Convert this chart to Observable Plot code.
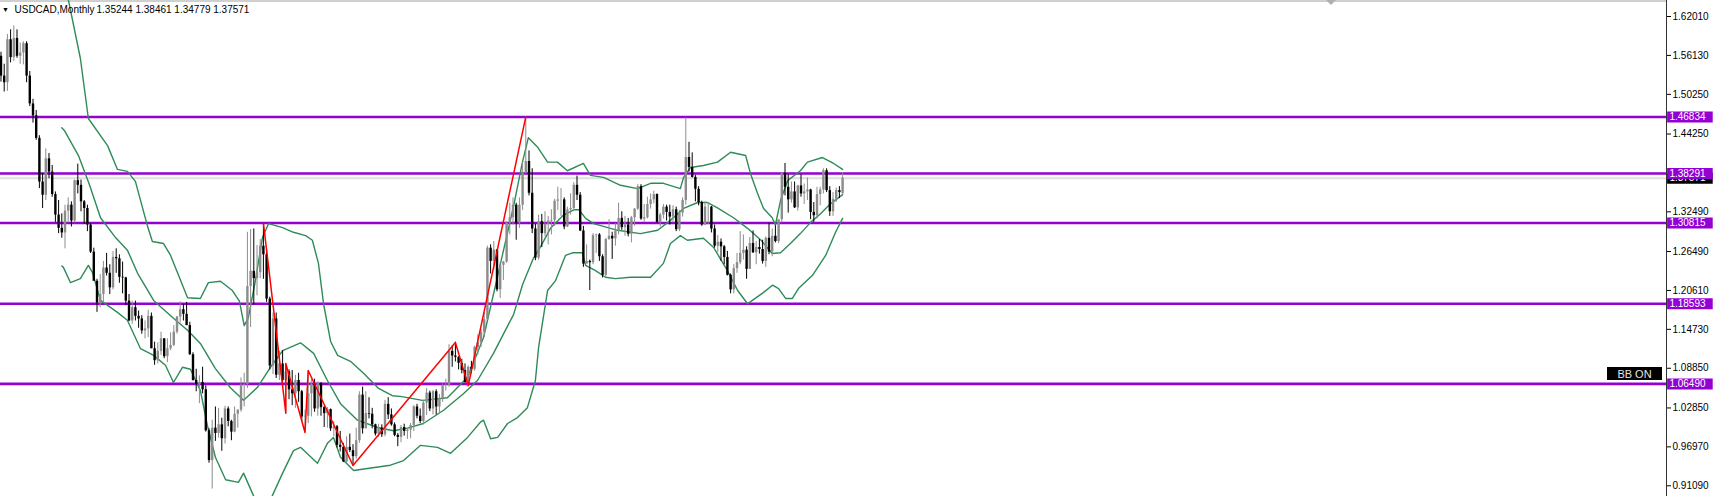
<!DOCTYPE html>
<html><head><meta charset="utf-8">
<script src="https://cdn.jsdelivr.net/npm/d3@7"></script>
<script src="https://cdn.jsdelivr.net/npm/@observablehq/plot@0.6"></script>
<style>
html,body{margin:0;padding:0;background:#fff;}
#chart svg{display:block;overflow:visible;}
</style></head><body><div id="chart"></div>
<script>
// ---------- data ----------
const symbolName = "USDCAD,Monthly";
const lastQuote = ["1.35244", "1.38461", "1.34779", "1.37571"];
const lastClose = 1.37571;
const badgeText = "BB ON";

// monthly candles, May 2002 (index 0) ... Apr 2024 (index 263)
const open = [
1.560,1.530,1.520,1.585,1.558,1.587,1.560,1.565,
1.579,1.530,1.488,1.470,1.436,1.370,1.350,1.405,1.385,1.351,1.320,1.300,
1.293,1.326,1.335,1.311,1.372,1.365,1.340,1.330,1.305,1.264,1.220,1.187,
1.200,1.240,1.232,1.210,1.256,1.254,1.226,1.225,1.190,1.160,1.180,1.167,
1.163,1.145,1.148,1.167,1.118,1.100,1.114,1.133,1.106,1.118,1.123,1.143,
1.166,1.177,1.170,1.153,1.109,1.070,1.064,1.067,1.056,0.994,0.949,0.998,
0.990,1.003,0.982,1.027,1.008,0.992,1.019,1.025,1.063,1.064,1.212,1.235,
1.224,1.233,1.273,1.260,1.193,1.092,1.163,1.078,1.095,1.070,1.083,1.056,
1.050,1.070,1.053,1.015,1.016,1.050,1.064,1.027,1.066,1.029,1.020,1.026,
0.997,1.000,0.972,0.969,0.947,0.969,0.964,0.955,0.979,1.048,0.997,1.020,
1.019,1.003,0.989,0.998,0.988,1.034,1.018,1.003,0.987,0.984,0.999,0.993,
0.995,1.002,1.030,1.016,1.008,1.036,1.051,1.027,1.053,1.030,1.043,1.062,
1.063,1.114,1.107,1.105,1.096,1.085,1.067,1.090,1.087,1.120,1.127,1.143,
1.162,1.270,1.250,1.267,1.207,1.244,1.249,1.308,1.316,1.335,1.308,1.335,
1.384,1.401,1.353,1.299,1.255,1.310,1.292,1.306,1.311,1.312,1.341,1.343,
1.343,1.302,1.328,1.330,1.365,1.350,1.296,1.246,1.250,1.248,1.289,1.290,
1.257,1.229,1.283,1.288,1.284,1.296,1.315,1.301,1.305,1.291,1.316,1.329,
1.363,1.314,1.316,1.336,1.343,1.351,1.309,1.320,1.332,1.324,1.317,1.328,
1.298,1.323,1.342,1.407,1.392,1.377,1.359,1.339,1.305,1.332,1.332,1.299,
1.273,1.279,1.272,1.256,1.229,1.207,1.239,1.248,1.262,1.267,1.238,1.277,
1.263,1.271,1.268,1.250,1.285,1.264,1.288,1.280,1.313,1.383,1.362,1.343,
1.355,1.331,1.364,1.352,1.355,1.358,1.324,1.319,1.351,1.358,1.387,1.357,
1.325,1.344,1.357,1.35244];
const high = [
1.566,1.548,1.593,1.600,1.606,1.600,1.580,1.582,
1.582,1.537,1.495,1.478,1.440,1.383,1.420,1.413,1.395,1.355,1.342,1.322,
1.335,1.346,1.340,1.373,1.397,1.373,1.342,1.335,1.307,1.270,1.223,1.230,
1.250,1.262,1.245,1.265,1.269,1.260,1.249,1.226,1.200,1.190,1.190,1.175,
1.168,1.160,1.176,1.172,1.128,1.127,1.143,1.133,1.133,1.142,1.153,1.167,
1.189,1.185,1.188,1.158,1.112,1.087,1.077,1.090,1.062,0.997,1.010,1.030,
1.028,1.013,1.031,1.030,1.010,1.030,1.026,1.074,1.081,1.294,1.298,1.299,
1.274,1.283,1.308,1.266,1.196,1.172,1.172,1.114,1.115,1.095,1.086,1.085,
1.078,1.081,1.055,1.025,1.085,1.072,1.072,1.068,1.066,1.031,1.029,1.027,
1.008,1.002,0.993,0.975,0.985,0.989,0.973,0.998,1.053,1.060,1.053,1.044,
1.028,1.004,1.004,1.003,1.040,1.044,1.027,1.006,0.990,1.002,1.004,0.997,
1.005,1.032,1.034,1.027,1.040,1.058,1.054,1.055,1.056,1.049,1.065,1.072,
1.124,1.122,1.128,1.106,1.102,1.095,1.092,1.099,1.122,1.139,1.147,1.173,
1.273,1.275,1.280,1.268,1.249,1.250,1.310,1.338,1.346,1.338,1.346,1.400,
1.468,1.417,1.390,1.306,1.320,1.321,1.325,1.318,1.328,1.344,1.362,1.360,
1.346,1.332,1.352,1.369,1.379,1.354,1.303,1.275,1.252,1.292,1.291,1.292,
1.260,1.285,1.313,1.294,1.307,1.338,1.325,1.318,1.315,1.318,1.330,1.366,
1.366,1.336,1.347,1.352,1.356,1.352,1.323,1.336,1.335,1.335,1.334,1.332,
1.327,1.346,1.467,1.430,1.414,1.380,1.363,1.341,1.340,1.339,1.333,1.305,
1.289,1.284,1.274,1.265,1.231,1.245,1.262,1.295,1.290,1.272,1.286,1.296,
1.280,1.283,1.282,1.287,1.308,1.299,1.304,1.312,1.384,1.398,1.381,1.370,
1.370,1.365,1.381,1.367,1.376,1.359,1.339,1.362,1.362,1.390,1.390,1.363,
1.354,1.361,1.363,1.38461];
const low = [
1.521,1.506,1.507,1.550,1.552,1.557,1.548,1.547,
1.520,1.484,1.459,1.433,1.360,1.330,1.342,1.375,1.347,1.309,1.292,1.285,
1.269,1.308,1.302,1.308,1.352,1.325,1.306,1.295,1.262,1.220,1.173,1.180,
1.187,1.228,1.200,1.207,1.232,1.217,1.201,1.183,1.159,1.155,1.160,1.149,
1.140,1.133,1.135,1.118,1.093,1.095,1.108,1.103,1.097,1.115,1.121,1.140,
1.157,1.160,1.153,1.108,1.069,1.053,1.035,1.050,0.992,0.945,0.906,0.978,
0.983,0.963,0.974,1.000,0.979,0.991,0.998,1.022,1.030,1.058,1.150,1.184,
1.198,1.224,1.223,1.188,1.086,1.079,1.073,1.070,1.059,1.021,1.041,1.032,
1.028,1.037,1.008,0.992,1.005,1.015,1.022,1.016,1.016,0.999,0.998,0.993,
0.985,0.968,0.962,0.946,0.945,0.961,0.941,0.951,0.975,0.989,0.997,1.012,
0.997,0.986,0.984,0.984,0.985,1.011,1.001,0.985,0.970,0.976,0.986,0.981,
0.982,0.993,1.012,1.005,1.003,1.017,1.023,1.018,1.018,1.020,1.037,1.054,
1.060,1.090,1.098,1.086,1.080,1.066,1.062,1.080,1.084,1.108,1.120,1.135,
1.161,1.231,1.236,1.204,1.194,1.221,1.247,1.290,1.305,1.282,1.300,1.327,
1.382,1.349,1.292,1.251,1.252,1.271,1.287,1.275,1.290,1.303,1.327,1.318,
1.298,1.301,1.320,1.327,1.342,1.295,1.241,1.246,1.206,1.245,1.262,1.250,
1.225,1.227,1.282,1.253,1.273,1.290,1.297,1.288,1.287,1.278,1.303,1.327,
1.312,1.309,1.314,1.329,1.337,1.308,1.302,1.314,1.311,1.305,1.308,1.295,
1.295,1.317,1.335,1.385,1.376,1.340,1.334,1.303,1.304,1.306,1.293,1.270,
1.263,1.250,1.245,1.228,1.201,1.201,1.232,1.245,1.252,1.223,1.238,1.262,
1.245,1.261,1.246,1.241,1.260,1.257,1.278,1.277,1.308,1.349,1.323,1.338,
1.330,1.326,1.347,1.336,1.342,1.313,1.309,1.314,1.334,1.352,1.354,1.318,
1.318,1.339,1.345,1.34779];
const close = [
1.530,1.520,1.585,1.558,1.587,1.560,1.565,1.579,
1.530,1.488,1.470,1.436,1.370,1.350,1.405,1.385,1.351,1.320,1.300,1.293,
1.326,1.335,1.311,1.372,1.365,1.340,1.330,1.305,1.264,1.220,1.187,1.200,
1.240,1.232,1.210,1.256,1.254,1.226,1.225,1.190,1.160,1.180,1.167,1.163,
1.145,1.148,1.167,1.118,1.100,1.114,1.133,1.106,1.118,1.123,1.143,1.166,
1.177,1.170,1.153,1.109,1.070,1.064,1.067,1.056,0.994,0.949,0.998,0.990,
1.003,0.982,1.027,1.008,0.992,1.019,1.025,1.063,1.064,1.212,1.235,1.224,
1.233,1.273,1.260,1.193,1.092,1.163,1.078,1.095,1.070,1.083,1.056,1.050,
1.070,1.053,1.015,1.016,1.050,1.064,1.027,1.066,1.029,1.020,1.026,0.997,
1.000,0.972,0.969,0.947,0.969,0.964,0.955,0.979,1.048,0.997,1.020,1.019,
1.003,0.989,0.998,0.988,1.034,1.018,1.003,0.987,0.984,0.999,0.993,0.995,
1.002,1.030,1.016,1.008,1.036,1.051,1.027,1.053,1.030,1.043,1.062,1.063,
1.114,1.107,1.105,1.096,1.085,1.067,1.090,1.087,1.120,1.127,1.143,1.162,
1.270,1.250,1.267,1.207,1.244,1.249,1.308,1.316,1.335,1.308,1.335,1.384,
1.401,1.353,1.299,1.255,1.310,1.292,1.306,1.311,1.312,1.341,1.343,1.343,
1.302,1.328,1.330,1.365,1.350,1.296,1.246,1.250,1.248,1.289,1.290,1.257,
1.229,1.283,1.288,1.284,1.296,1.315,1.301,1.305,1.291,1.316,1.329,1.363,
1.314,1.316,1.336,1.343,1.351,1.309,1.320,1.332,1.324,1.317,1.328,1.298,
1.323,1.342,1.407,1.392,1.377,1.359,1.339,1.305,1.332,1.332,1.299,1.273,
1.279,1.272,1.256,1.229,1.207,1.239,1.248,1.262,1.267,1.238,1.277,1.263,
1.271,1.268,1.250,1.285,1.264,1.288,1.280,1.313,1.383,1.362,1.343,1.355,
1.331,1.364,1.352,1.355,1.358,1.324,1.319,1.351,1.358,1.387,1.357,1.325,
1.344,1.357,1.354,1.37571];

// horizontal levels drawn on the chart
const levels = [1.46834, 1.38291, 1.30815, 1.18593, 1.06490];
// price-axis tick labels
const tickValues = [1.62010, 1.56130, 1.50250, 1.44250, 1.32490, 1.26490, 1.20610, 1.14730, 1.08850, 1.02850, 0.96970, 0.91090];

// Bollinger bands: [bar index, price]
const bbUpper = [
[19,1.700],[21.1,1.644],[24.8,1.557],[27.3,1.466],[33.3,1.425],[36.4,1.389],[39.5,1.386],[42.0,1.371],[45.8,1.303],[47.3,1.280],
[50.8,1.277],[53.0,1.259],[58.3,1.195],[62.3,1.194],[64.8,1.218],[68.6,1.220],[72.3,1.206],[74.5,1.190],[76.0,1.153],[77.3,1.165],
[79.5,1.221],[81.7,1.286],[83.6,1.307],[88.0,1.301],[91.4,1.294],[95.2,1.289],[97.3,1.282],[99.2,1.247],[100.8,1.186],[103.0,1.129],
[105.2,1.108],[109.2,1.099],[113.3,1.081],[118.0,1.058],[122.3,1.047],[124.8,1.046],[131.7,1.040],[139.5,1.044],[145.8,1.075],[150.8,1.135],
[156.1,1.247],[160.2,1.334],[162.9,1.399],[164.8,1.437],[167.8,1.422],[170.8,1.400],[173.9,1.400],[177.0,1.387],[182.0,1.398],[184.2,1.380],
[188.3,1.377],[193.6,1.365],[198.9,1.360],[203.0,1.368],[207.0,1.368],[212.3,1.360],[213.3,1.377],[215.5,1.392],[219.5,1.395],[223.9,1.400],
[228.0,1.415],[232.7,1.410],[234.2,1.383],[236.4,1.353],[238.3,1.330],[241.0,1.316],[242.0,1.305],[243.6,1.342],[245.8,1.372],[249.8,1.387],
[252.0,1.400],[256.7,1.407],[260.2,1.398],[263.0,1.389]];
const bbMiddle = [
[19,1.452],[19.8,1.448],[24.2,1.410],[27.7,1.365],[31.1,1.316],[35.8,1.286],[39.5,1.267],[42.7,1.232],[47.7,1.191],[53.9,1.164],
[58.3,1.146],[62.3,1.126],[67.0,1.088],[71.7,1.059],[75.8,1.040],[80.2,1.060],[84.2,1.090],[88.0,1.115],[93.6,1.127],[97.7,1.111],
[102.0,1.070],[106.1,1.035],[111.4,1.010],[117.7,0.999],[122.7,0.994],[127.0,0.998],[132.0,1.005],[138.3,1.025],[144.5,1.050],[148.9,1.070],
[153.9,1.111],[160.2,1.170],[163.0,1.215],[166.4,1.255],[168.6,1.272],[171.7,1.300],[175.8,1.320],[179.0,1.328],[180.6,1.328],[182.7,1.315],
[185.2,1.307],[192.7,1.297],[199.8,1.292],[205.2,1.297],[209.2,1.312],[213.3,1.330],[217.7,1.339],[220.8,1.339],[223.9,1.331],[228.9,1.316],
[233.3,1.300],[237.5,1.282],[241.0,1.262],[243.6,1.263],[246.7,1.277],[249.8,1.292],[253.0,1.309],[256.1,1.322],[259.2,1.337],[263.0,1.351]];
const bbLower = [
[19,1.243],[19.5,1.241],[21.7,1.218],[24.8,1.224],[27.3,1.244],[28.6,1.233],[31.1,1.191],[36.4,1.173],[39.5,1.161],[43.6,1.118],
[47.7,1.108],[51.4,1.093],[53.9,1.067],[56.7,1.090],[59.2,1.087],[62.3,1.055],[64.5,1.002],[67.0,0.954],[70.2,0.920],[74.2,0.916],
[75.8,0.930],[78.9,0.896],[81.5,0.860],[84.8,0.896],[88.0,0.930],[91.4,0.964],[93.6,0.969],[98.9,0.945],[102.0,0.975],[103.9,0.984],
[106.1,0.954],[110.2,0.934],[114.5,0.937],[121.7,0.942],[125.8,0.949],[131.1,0.972],[136.4,0.969],[140.5,0.960],[145.8,0.984],[149.8,1.007],
[150.8,1.010],[153.0,0.982],[155.2,0.984],[158.3,1.005],[161.4,1.014],[164.5,1.029],[167.0,1.070],[168.0,1.120],[170.8,1.206],[173.3,1.221],
[176.4,1.259],[178.6,1.263],[181.7,1.263],[182.7,1.244],[185.8,1.236],[188.9,1.226],[192.0,1.224],[196.7,1.226],[203.0,1.226],[207.0,1.247],
[209.2,1.277],[212.3,1.289],[214.5,1.282],[219.5,1.285],[222.7,1.271],[227.0,1.236],[230.2,1.206],[233.3,1.186],[234.8,1.191],[238.0,1.202],
[241.1,1.214],[243.0,1.209],[245.2,1.194],[247.3,1.194],[249.2,1.209],[253.6,1.229],[257.7,1.259],[260.8,1.294],[263.0,1.315]];

// ZigZag turning points: [bar index, price]
const zigzag = [[82,1.3082],[89,1.0206],[89,1.0957],[95,0.9914],[96,1.0851],[110,0.9415],[142,1.1274],[146,1.0620],[164,1.4683]];

// ---------- chart ----------
const W = 1717, H = 496;
const xDomain = [-0.15625, 520.46875];
const yDomain = [0.8947, 1.6443];
const bullColor = "#8c8c8c", bearColor = "#000000";
const green = "#2e8b57", purple = "#9400d3";

const candles = d3.range(open.length).map(i => ({i, o: open[i], h: high[i], l: low[i], c: close[i]}));
const candleColor = d => d.c >= d.o ? bullColor : bearColor;
const xr = xDomain[1];
const font = "'Liberation Sans', Arial, sans-serif";

const chart = Plot.plot({
  width: W, height: H,
  marginLeft: 0, marginRight: 51, marginTop: 0, marginBottom: 0,
  x: {domain: xDomain, axis: null},
  y: {domain: yDomain, axis: "right", ticks: tickValues, tickFormat: d => d.toFixed(5), tickSize: 4, tickPadding: 2, label: null},
  style: {fontFamily: font, fontSize: "10px", color: "#000", background: "#fff", overflow: "visible"},
  marks: [
    Plot.ruleY([yDomain[1]], {stroke: "#a0a0a0", strokeWidth: 1, dy: 0.5}),
    Plot.ruleY([lastClose], {stroke: "#dedede", strokeWidth: 2}),
    Plot.ruleY(levels, {stroke: purple, strokeWidth: 2.6}),
    Plot.line(bbUpper, {x: d => d[0], y: d => d[1], stroke: green, strokeWidth: 1.4, clip: true}),
    Plot.line(bbMiddle, {x: d => d[0], y: d => d[1], stroke: green, strokeWidth: 1.4, clip: true}),
    Plot.line(bbLower, {x: d => d[0], y: d => d[1], stroke: green, strokeWidth: 1.4, clip: true}),
    Plot.ruleX(candles, {x: "i", y1: "l", y2: "h", stroke: candleColor, strokeWidth: 1}),
    Plot.ruleX(candles, {x: "i", y1: "o", y2: "c", stroke: candleColor, strokeWidth: 2.4}),
    Plot.line(zigzag, {x: d => d[0], y: d => d[1], stroke: "#ff0000", strokeWidth: 1.5}),
    Plot.ruleX([xr], {stroke: "#333", strokeWidth: 1}),
    // current price label (black) then level labels (purple)
    Plot.ruleY([lastClose], {x1: xr + 0.35, x2: xr + 14.6, stroke: "#000", strokeWidth: 11}),
    Plot.text([lastClose], {x: xr + 0.9, y: d => d, text: d => d.toFixed(5), fill: "#fff", textAnchor: "start", fontSize: 10}),
    Plot.ruleY(levels, {x1: xr + 0.35, x2: xr + 14.6, stroke: purple, strokeWidth: 11}),
    Plot.text(levels, {x: xr + 0.9, y: d => d, text: d => d.toFixed(5), fill: "#fff", textAnchor: "start", fontSize: 10}),
    // header
    Plot.text(["\u25BC"], {frameAnchor: "top-left", dx: 5, dy: 9, text: d => d, fontSize: 7, fill: "#000", textAnchor: "middle", lineAnchor: "middle"}),
    Plot.text([symbolName], {frameAnchor: "top-left", dx: 14, dy: 9, text: d => d, fontSize: 10, fill: "#000", textAnchor: "start", lineAnchor: "middle"}),
    Plot.text([lastQuote.join(" ")], {frameAnchor: "top-left", dx: 96, dy: 9, text: d => d, fontSize: 10, fill: "#000", textAnchor: "start", lineAnchor: "middle"})
  ]
});
document.getElementById("chart").appendChild(chart);

// UI overlays: "BB ON" badge and chart-shift marker
const svg = d3.select(chart);
const xs = chart.scale("x");
const frameRight = xs.range[1];
const badge = svg.append("g");
badge.append("rect").attr("x", frameRight - 59).attr("y", 367).attr("width", 55).attr("height", 13).attr("fill", "#000");
badge.append("text").attr("x", frameRight - 31.5).attr("y", 373.5).attr("text-anchor", "middle").attr("dominant-baseline", "central")
  .attr("fill", "#e6e6e6").attr("font-family", font).attr("font-size", 11).text(badgeText);
svg.append("path").attr("d", `M${frameRight - 340},0 L${frameRight - 330},0 L${frameRight - 335},5 Z`).attr("fill", "#b0b0b0");
</script>
</body></html>
